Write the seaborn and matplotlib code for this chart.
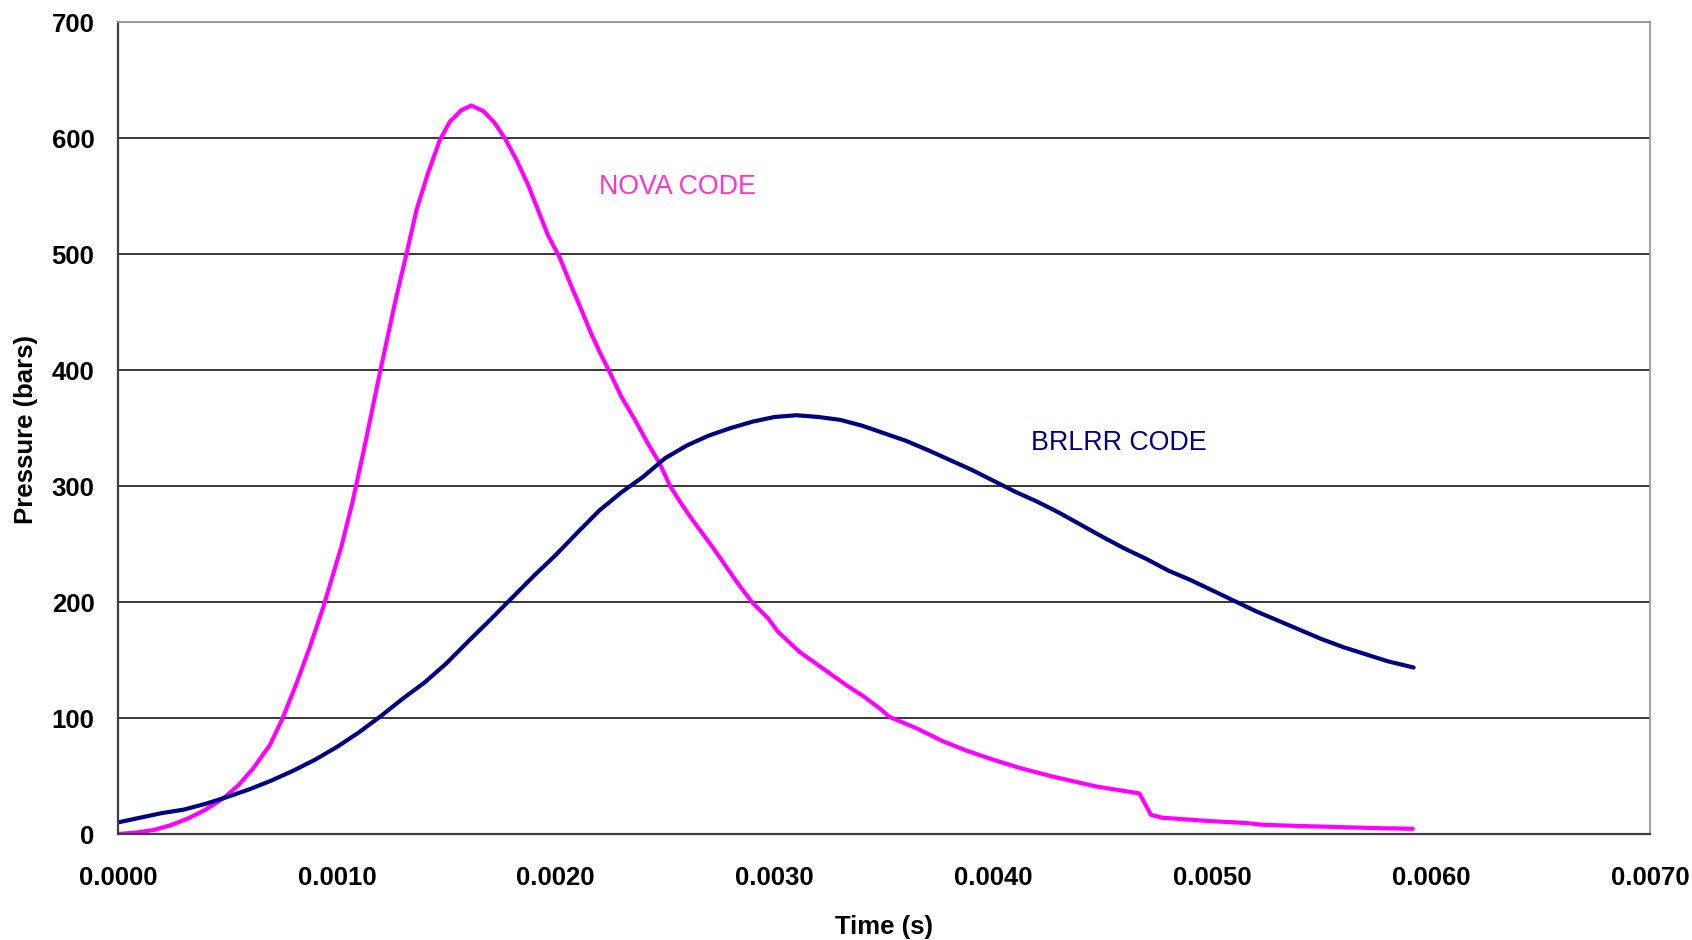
import pandas as pd
import matplotlib
matplotlib.use("Agg")
import matplotlib.pyplot as plt
import seaborn as sns
from matplotlib.ticker import FormatStrFormatter, MultipleLocator

# NOVA CODE - czas [ms] i cisnienie [bar]
nova_time_ms = [0.000, 0.080, 0.161, 0.240, 0.321, 0.400, 0.481, 0.550, 0.618, 0.694,
                0.752, 0.816, 0.877, 0.937, 1.021, 1.070, 1.120, 1.196, 1.265, 1.318,
                1.364, 1.417, 1.470, 1.516, 1.569, 1.615, 1.671, 1.721, 1.767, 1.821,
                1.874, 1.919, 1.965, 2.018, 2.072, 2.117, 2.163, 2.201, 2.247, 2.300,
                2.368, 2.420, 2.475, 2.524, 2.573, 2.624, 2.718, 2.810, 2.848, 2.901,
                2.970, 3.015, 3.114, 3.256, 3.330, 3.404, 3.479, 3.525, 3.650, 3.769,
                3.875, 4.000, 4.119, 4.271, 4.469, 4.667, 4.720, 4.773, 4.926, 5.000,
                5.154, 5.228, 5.382, 5.571, 5.768, 5.916]
nova_pressure = [0, 1.2, 3.4, 7.5, 13.5, 21, 30.7, 42, 56.6, 76.7,
                 99.7, 130, 161.5, 195, 248, 285, 328, 397, 457.5, 500,
                 538, 570, 598, 614, 624, 628, 623, 613, 600, 581,
                 559.5, 538, 516, 497, 472, 452, 431, 415.5, 398, 377,
                 355, 337, 319.5, 299.5, 285, 271, 247, 222, 212, 199,
                 186, 174.5, 157, 138, 128, 119, 108.5, 101, 91, 80,
                 72, 64, 57, 49.5, 41, 35, 16.5, 14, 12, 11,
                 9.5, 8, 7, 6, 5, 4.5]

# BRLRR CODE
brlrr_time_ms = [0.0, 0.1, 0.2, 0.3, 0.4, 0.5, 0.6, 0.7, 0.8, 0.9,
                 1.0, 1.1, 1.2, 1.3, 1.4, 1.5, 1.6, 1.7, 1.8, 1.9,
                 2.0, 2.1, 2.2, 2.3, 2.4, 2.5, 2.6, 2.7, 2.8, 2.9,
                 3.0, 3.1, 3.2, 3.3, 3.4, 3.5, 3.6, 3.7, 3.8, 3.9,
                 4.0, 4.1, 4.2, 4.3, 4.4, 4.5, 4.6, 4.7, 4.8, 4.9,
                 5.0, 5.1, 5.2, 5.3, 5.4, 5.5, 5.6, 5.7, 5.8, 5.92]
brlrr_pressure = [10, 14, 18, 21, 26, 32, 38.5, 46, 54.5, 64,
                  75, 87.5, 101.5, 116.5, 130.5, 147, 166, 184.5, 203.5, 222.5,
                  240.5, 260, 279, 294.5, 308, 324, 335, 343.5, 350, 355.5,
                  359.5, 361, 359.5, 357, 352, 345.5, 339, 331, 322.5, 314,
                  304.5, 295, 286.5, 277, 266.5, 256, 246, 237, 227, 219,
                  210, 201, 192, 184, 176, 168, 161, 155, 149, 143.5]

x_ticks = [0.0, 0.001, 0.002, 0.003, 0.004, 0.005, 0.006, 0.007]

df = pd.concat([
    pd.DataFrame({'Time': [t / 1000 for t in nova_time_ms], 'Pressure': nova_pressure, 'Code': 'NOVA'}),
    pd.DataFrame({'Time': [t / 1000 for t in brlrr_time_ms], 'Pressure': brlrr_pressure, 'Code': 'BRLRR'}),
], ignore_index=True)

sns.set_theme(style="white")
plt.rcParams['font.family'] = ['Liberation Sans', 'DejaVu Sans']

fig = plt.figure(figsize=(16.92, 9.4), dpi=100)
ax = fig.add_axes([118 / 1692, 1 - 834 / 940, (1650 - 118) / 1692, (834 - 22) / 940])

sns.lineplot(data=df, x='Time', y='Pressure', hue='Code',
             palette={'NOVA': '#FF00FF', 'BRLRR': '#000080'},
             linewidth=3.0, legend=False, sort=False, estimator=None, ax=ax)

ax.set_xlim(0, 0.007)
ax.set_ylim(0, 700)
ax.set_xticks(x_ticks)
ax.xaxis.set_major_formatter(FormatStrFormatter('%.4f'))
ax.yaxis.set_major_locator(MultipleLocator(100))

# linie siatki poziome
ax.yaxis.grid(True, color='black', linewidth=1.1)
ax.xaxis.grid(False)
ax.set_axisbelow(True)

for s in ['left', 'bottom']:
    ax.spines[s].set_color('#404040')
    ax.spines[s].set_linewidth(1.6)
for s in ['top', 'right']:
    ax.spines[s].set_color('#9a9a9a')
    ax.spines[s].set_linewidth(1.3)

ax.tick_params(axis='both', direction='out', length=8, width=1.2, color='#404040',
               labelsize=18.5, labelcolor='black')
ax.tick_params(axis='x', pad=15)
ax.tick_params(axis='y', pad=9)
for lab in ax.get_xticklabels() + ax.get_yticklabels():
    lab.set_fontweight('bold')

ax.set_xlabel('Time (s)', fontsize=18.5, fontweight='bold', color='black')
ax.set_ylabel('Pressure (bars)', fontsize=18.5, fontweight='bold', color='black')
ax.xaxis.set_label_coords(0.5, -0.1)
ax.yaxis.set_label_coords(-0.052, 0.498)

ax.text(0.0022, 558, 'NOVA CODE', color='#FF33CC', fontsize=19.3, ha='left', va='center')
ax.text(0.00417, 337, 'BRLRR CODE', color='#000080', fontsize=19.3, ha='left', va='center')

fig.savefig('out.png', dpi=100)
